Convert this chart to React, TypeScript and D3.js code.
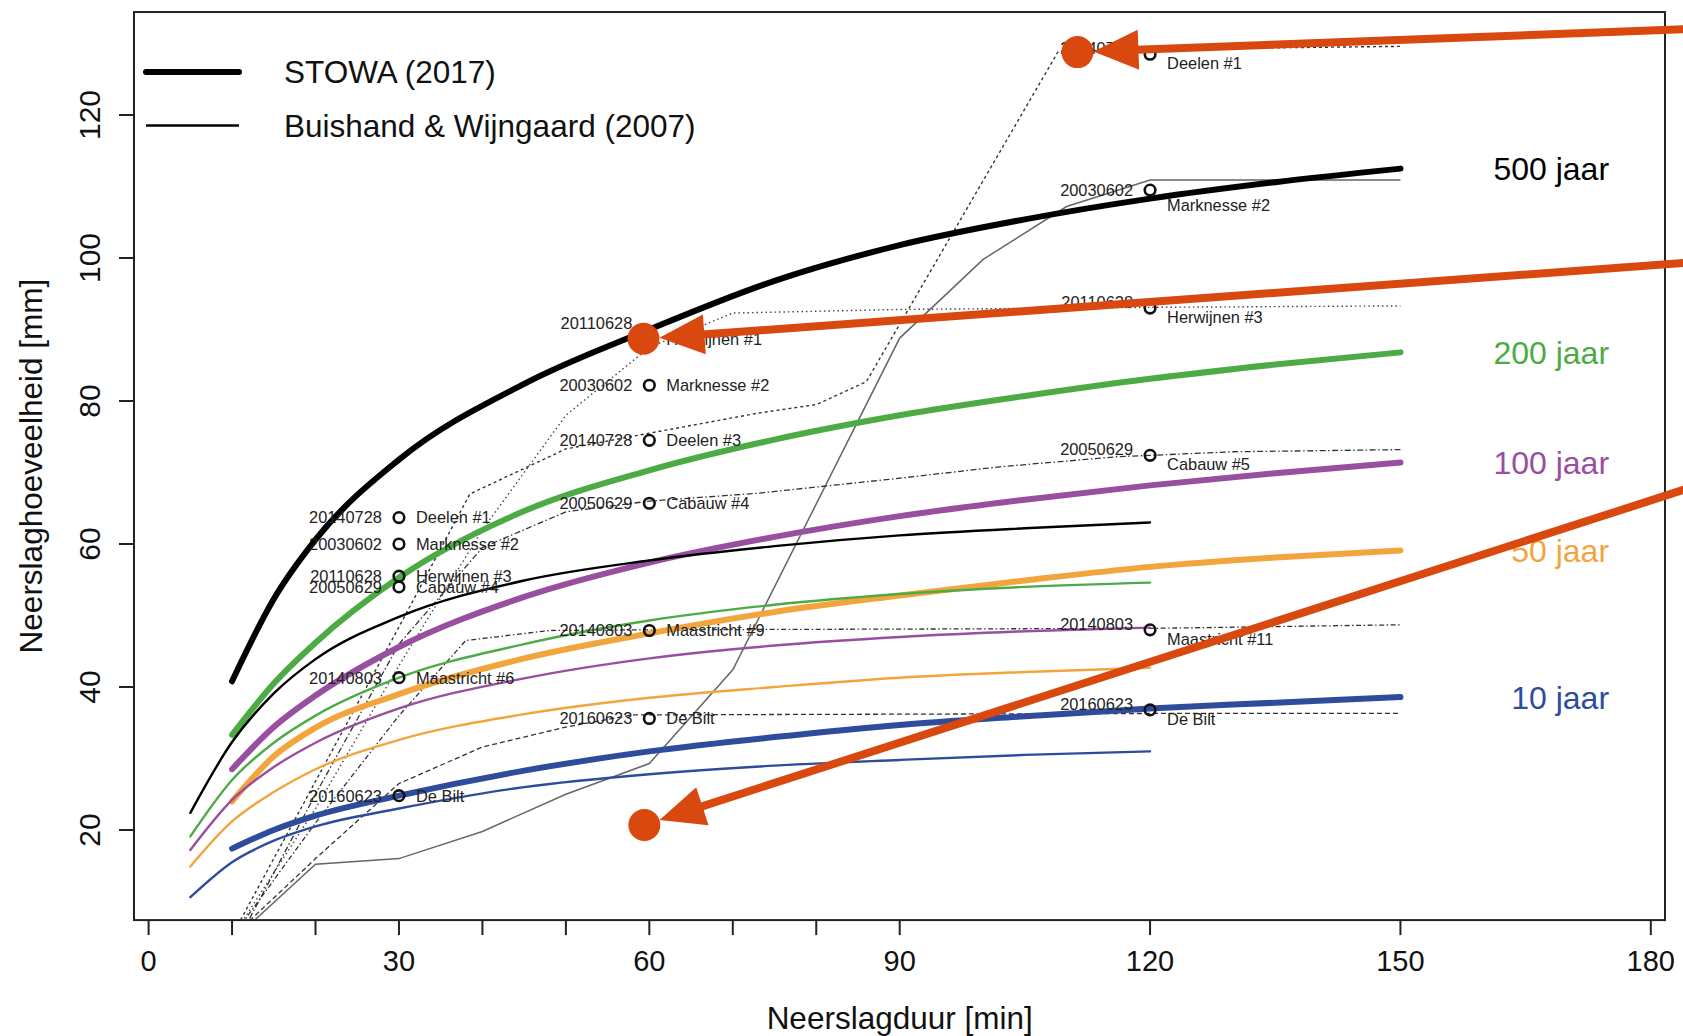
import React from "react";
import * as d3 from "d3";

const W = 1683;
const H = 1036;
const FONT = "'Liberation Sans', Arial, Helvetica, sans-serif";

// STOWA (2017) curves, duration in minutes -> depth in mm
const stowaDur = [10, 15, 20, 30, 45, 60, 75, 90, 105, 120, 135, 150];
const stowa500 = [40.8, 52.3, 60.6, 71.8, 82.4, 90, 96.8, 101.8, 105.4, 108.3, 110.6, 112.5];
const stowa200 = [33.3, 40.5, 46.2, 55.3, 64.6, 70.3, 74.6, 78, 80.7, 83.1, 85.1, 86.8];
const stowa100 = [28.5, 34.4, 38.8, 45.6, 52.6, 57.4, 61, 63.9, 66.2, 68.2, 69.9, 71.4];
const stowa50 = [24, 30.3, 34.3, 39, 44, 47.5, 50.5, 52.8, 54.9, 56.8, 58.1, 59.1];
const stowa10 = [17.4, 20, 22, 24.8, 28.3, 31, 33, 34.7, 35.9, 37, 37.8, 38.6];

// Buishand & Wijngaard (2007) curves
const bwDur = [5, 10, 15, 20, 30, 45, 60, 75, 90, 105, 120];
const bw500 = [22.4, 32.3, 39.1, 43.9, 49.8, 54.9, 57.7, 59.7, 61.2, 62.2, 63];
const bw200 = [19.1, 27, 32.2, 36, 41.3, 46, 49.3, 51.5, 53, 54, 54.6];
const bw100 = [17.2, 24.2, 28.8, 32.2, 37, 41.2, 44, 45.8, 47, 47.8, 48.3];
const bw50 = [14.9, 21.2, 25.3, 28.5, 32.6, 36.2, 38.5, 40, 41.3, 42.1, 42.7];
const bw10 = [10.6, 15.5, 18.5, 20.5, 23, 26, 27.8, 29, 29.8, 30.5, 31];

const periods = ["500 jaar", "200 jaar", "100 jaar", "50 jaar", "10 jaar"];
const periodColors = ["#000000", "#4dab46", "#984f9f", "#f2a53c", "#2e4c9b"];

// observed events (cumulative rainfall over time)
const events = ["20140728", "20030602", "20110628", "20050629", "20140803", "20160623"];
const stations = ["Deelen", "Marknesse", "Herwijnen", "Cabauw", "Maastricht", "De Bilt"];

const deelenT = [10, 20, 30, 38.5, 50, 60, 73, 80, 86, 109, 120, 150];
const deelenV = [5.2, 26.8, 48.4, 67, 73.3, 75.5, 78.3, 79.5, 82.7, 128.9, 129.2, 129.6];
const marknesseT = [10, 20, 30, 40, 50, 60, 70, 90, 100, 110, 120, 150];
const marknesseV = [4.5, 15.2, 16, 19.8, 25, 29.3, 42.4, 88.8, 99.8, 107.2, 110.9, 110.9];
const herwijnenT = [10, 20, 30, 40, 50, 60, 70, 90, 120, 150];
const herwijnenV = [5, 23, 43, 62, 78, 87.5, 92.3, 92.8, 93.1, 93.3];
const cabauwT = [10, 20, 30, 40, 50, 60, 73, 90, 102, 116, 130, 150];
const cabauwV = [3, 25, 46, 59.5, 64.5, 66, 67.1, 69.2, 70.8, 72.2, 72.9, 73.2];
const maastrichtT = [10, 20, 30, 38, 48, 60, 90, 120, 150];
const maastrichtV = [5, 21, 36, 46.5, 47.9, 48, 48.1, 48.2, 48.7];
const debiltT = [10, 20, 30, 40, 50, 58, 90, 120, 150];
const debiltV = [5, 16, 26.5, 31.6, 34.4, 36.1, 36.2, 36.3, 36.3];

// maximum depth per duration, with rank
const max30 = [63.7, 60, 55.5, 54, 41.3, 24.8];
const rank30 = ["#1", "#2", "#3", "#4", "#6", ""];
const max60 = [74.5, 82.2, 88.7, 65.7, 47.9, 35.6];
const rank60 = ["#3", "#2", "#1", "#4", "#9", ""];
const max120 = [128.5, 109.5, 93, 72.4, 48, 36.8];
const rank120 = ["#1", "#2", "#3", "#5", "#11", ""];

// annotation arrows: target point and start at the right edge (data units)
const arrowTargets = [[111.3, 128.8], [59.3, 88.7], [59.4, 20.7]];
const arrowStarts = [[184, 132.0], [184, 99.3], [184, 67.6]];

const xTicks = [0, 10, 20, 30, 40, 50, 60, 70, 80, 90, 120, 150, 180];
const xLabels = [0, 30, 60, 90, 120, 150, 180];
const yTicks = [20, 40, 60, 80, 100, 120];

export default function App() {
  const x = d3.scaleLinear().domain([0, 180]).range([148.6, 1650.8]);
  const y = d3.scaleLinear().domain([20, 120]).range([830, 115]);

  const left = x(-1.75), right = x(181.7), top = y(134.4), bottom = y(7.4);

  const smooth = d3.line<number[]>().x(d => x(d[0])).y(d => y(d[1])).curve(d3.curveMonotoneX);
  const poly = d3.line<number[]>().x(d => x(d[0])).y(d => y(d[1]));

  const stowa = [stowa500, stowa200, stowa100, stowa50, stowa10];
  const bw = [bw500, bw200, bw100, bw50, bw10];

  const eventLines = [
    { t: deelenT, v: deelenV, dash: "3,3", color: "#333", w: 1.4 },
    { t: marknesseT, v: marknesseV, dash: null, color: "#666", w: 1.5 },
    { t: herwijnenT, v: herwijnenV, dash: "1.5,3", color: "#444", w: 1.4 },
    { t: cabauwT, v: cabauwV, dash: "6,2.5,1.5,2.5", color: "#333", w: 1.3 },
    { t: maastrichtT, v: maastrichtV, dash: "1.5,2.5,5,2.5", color: "#333", w: 1.3 },
    { t: debiltT, v: debiltV, dash: "5,3", color: "#333", w: 1.3 },
  ];

  const markerSets = [
    { dur: 30, vals: max30, ranks: rank30 },
    { dur: 60, vals: max60, ranks: rank60 },
    { dur: 120, vals: max120, ranks: rank120 },
  ];

  // label nudges (date above / name below) where the original placed them off-centre
  const nudge = (dur: number, i: number) => {
    if (dur === 120) return i === 1 ? [0, 15] : [-6, 9];
    if (dur === 60 && i === 2) return [-16, 0];
    return [0, 0];
  };

  const arrowColor = "#d9480f";

  return (
    <svg width={W} height={H} style={{ position: "absolute", left: 0, top: 0, background: "#fff" }}
      fontFamily={FONT}>
      <defs>
        <clipPath id="plotArea">
          <rect x={left} y={top} width={right - left} height={bottom - top} />
        </clipPath>
      </defs>

      <g clipPath="url(#plotArea)">
        {/* observed events */}
        {eventLines.map((e, i) => (
          <path key={"ev" + i} d={poly(e.t.map((t, j) => [t, e.v[j]])) || ""} fill="none"
            stroke={e.color} strokeWidth={e.w} strokeDasharray={e.dash || undefined} />
        ))}
        {/* STOWA thick */}
        {stowa.map((s, i) => (
          <path key={"st" + i} d={smooth(stowaDur.map((d, j) => [d, s[j]])) || ""} fill="none"
            stroke={periodColors[i]} strokeWidth={6} strokeLinecap="round" />
        ))}
        {/* Buishand & Wijngaard thin */}
        {bw.map((s, i) => (
          <path key={"bw" + i} d={smooth(bwDur.map((d, j) => [d, s[j]])) || ""} fill="none"
            stroke={periodColors[i]} strokeWidth={2.4} strokeLinecap="round" />
        ))}
      </g>

      {/* markers and labels */}
      {markerSets.map(ms => ms.vals.map((v, i) => {
        const cx = x(ms.dur), cy = y(v);
        const [dDate, dName] = nudge(ms.dur, i);
        const name = stations[i] + (ms.ranks[i] ? " " + ms.ranks[i] : "");
        return (
          <g key={ms.dur + "-" + i}>
            <circle cx={cx} cy={cy} r={5.3} fill="none" stroke="#111" strokeWidth={2.6} />
            <text x={cx - 17} y={cy + dDate} dy="0.36em" textAnchor="end" fontSize={16.4} fill="#222">{events[i]}</text>
            <text x={cx + 17} y={cy + dName} dy="0.36em" textAnchor="start" fontSize={16.4} fill="#222">{name}</text>
          </g>
        );
      }))}

      {/* return period labels */}
      {periods.map((p, i) => (
        <text key={p} x={x(175)} y={y(stowa[i][stowa[i].length - 1])} dy="0.36em" textAnchor="end"
          fontSize={32} fill={periodColors[i]}>{p}</text>
      ))}

      {/* frame */}
      <rect x={left} y={top} width={right - left} height={bottom - top} fill="none" stroke="#222" strokeWidth={2} />

      {/* x axis */}
      {xTicks.map(t => (
        <line key={"xt" + t} x1={x(t)} x2={x(t)} y1={bottom} y2={bottom + 15} stroke="#222" strokeWidth={2} />
      ))}
      {xLabels.map(t => (
        <text key={"xl" + t} x={x(t)} y={971} textAnchor="middle" fontSize={29} fill="#111">{t}</text>
      ))}
      <text x={x(90)} y={1029} textAnchor="middle" fontSize={31.5} fill="#111">Neerslagduur [min]</text>

      {/* y axis */}
      {yTicks.map(t => (
        <g key={"yt" + t}>
          <line x1={left - 15} x2={left} y1={y(t)} y2={y(t)} stroke="#222" strokeWidth={2} />
          <text transform={`translate(100,${y(t)}) rotate(-90)`} textAnchor="middle" fontSize={30} fill="#111">{t}</text>
        </g>
      ))}
      <text transform={`translate(42,${y(70.9)}) rotate(-90)`} textAnchor="middle" fontSize={31.5} fill="#111">
        Neerslaghoeveelheid [mm]
      </text>

      {/* legend */}
      <line x1={left + 12} x2={left + 105} y1={top + 60} y2={top + 60} stroke="#000" strokeWidth={6} strokeLinecap="round" />
      <text x={left + 150} y={top + 60} dy="0.36em" fontSize={31.5} fill="#111">STOWA (2017)</text>
      <line x1={left + 12} x2={left + 105} y1={top + 113.5} y2={top + 113.5} stroke="#000" strokeWidth={2.4} />
      <text x={left + 150} y={top + 113.5} dy="0.36em" fontSize={31.5} fill="#111">Buishand &amp; Wijngaard (2007)</text>

      {/* annotation arrows */}
      {arrowTargets.map((tg, i) => {
        const sx = x(arrowStarts[i][0]), sy = y(arrowStarts[i][1]);
        const dx = x(tg[0]), dy = y(tg[1]);
        const len = Math.hypot(dx - sx, dy - sy);
        const ux = (dx - sx) / len, uy = (dy - sy) / len;
        const r = 16, L = 45, hw = 20;
        const tipX = dx - ux * r, tipY = dy - uy * r;
        const bX = tipX - ux * L, bY = tipY - uy * L;
        const px = -uy, py = ux;
        return (
          <g key={"ar" + i}>
            <line x1={sx} y1={sy} x2={bX + ux * 2} y2={bY + uy * 2} stroke={arrowColor} strokeWidth={8} />
            <polygon points={`${tipX},${tipY} ${bX + px * hw},${bY + py * hw} ${bX - px * hw},${bY - py * hw}`} fill={arrowColor} />
            <circle cx={dx} cy={dy} r={r} fill={arrowColor} />
          </g>
        );
      })}
    </svg>
  );
}
